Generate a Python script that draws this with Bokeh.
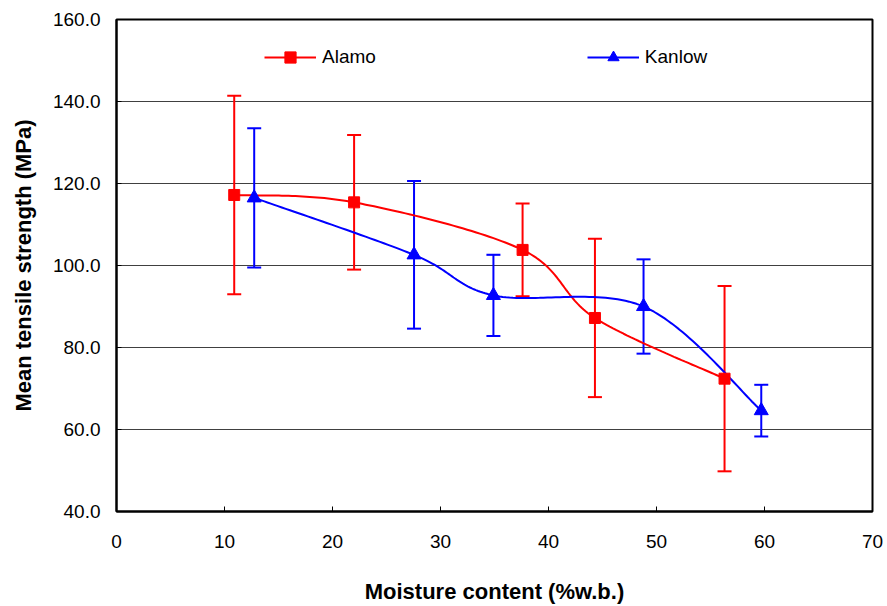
import numpy as np
from bokeh.plotting import figure
from bokeh.models import (ColumnDataSource, Whisker, TeeHead, Range1d, FixedTicker,
                          NumeralTickFormatter, Legend, LegendItem)
from bokeh.embed import file_html
from bokeh.resources import INLINE

# Moisture content (% w.b.) and mean tensile strength (MPa) with error bars
alamo_x = [10.9, 22.0, 37.6, 44.3, 56.3]
alamo_y = [117.2, 115.4, 103.8, 87.2, 72.4]
alamo_err = [24.2, 16.4, 11.3, 19.3, 22.6]

kanlow_x = [12.75, 27.55, 34.9, 48.8, 59.7]
kanlow_y = [116.5, 102.6, 92.7, 90.0, 64.6]
kanlow_err = [17.0, 18.0, 9.9, 11.5, 6.3]

x_ticks = [0, 10, 20, 30, 40, 50, 60, 70]
y_ticks = [40, 60, 80, 100, 120, 140, 160]

FONT = "Liberation Sans"
RED = "#FF0000"
BLUE = "#0000FF"


def smooth_curve(xs, ys, steps=40):
    """Cubic Bezier smoothing through the points (Catmull-Rom style control points)."""
    pts = np.column_stack([xs, ys]).astype(float)
    n = len(pts)
    out_x, out_y = [], []
    t = np.linspace(0, 1, steps)
    for i in range(n - 1):
        p0 = pts[i - 1] if i > 0 else pts[i]
        p1 = pts[i]
        p2 = pts[i + 1]
        p3 = pts[i + 2] if i + 2 < n else pts[i + 1]
        c1 = p1 + (p2 - p0) / 6.0
        c2 = p2 - (p3 - p1) / 6.0
        b = ((1 - t) ** 3)[:, None] * p1 + (3 * (1 - t) ** 2 * t)[:, None] * c1 \
            + (3 * (1 - t) * t ** 2)[:, None] * c2 + (t ** 3)[:, None] * p2
        if i > 0:
            b = b[1:]
        out_x.extend(b[:, 0])
        out_y.extend(b[:, 1])
    return out_x, out_y


p = figure(width=887, height=606, output_backend="svg", toolbar_location=None,
           x_range=Range1d(0, 70), y_range=Range1d(40, 160),
           min_border_left=116, min_border_right=15, min_border_top=19,
           min_border_bottom=95)
p.background_fill_color = "white"
p.border_fill_color = "white"
p.outline_line_color = "black"
p.outline_line_width = 2

# axes
p.xaxis.ticker = FixedTicker(ticks=x_ticks)
p.yaxis.ticker = FixedTicker(ticks=y_ticks)
p.yaxis.formatter = NumeralTickFormatter(format="0.0")
for ax in (p.xaxis[0], p.yaxis[0]):
    ax.axis_line_color = "black"
    ax.axis_line_width = 2
    ax.major_tick_in = 5
    ax.major_tick_out = 0
    ax.major_tick_line_color = "black"
    ax.minor_tick_line_color = None
    ax.major_label_text_font = FONT
    ax.major_label_text_font_size = "19px"
    ax.major_label_text_color = "black"
    ax.axis_label_text_font = FONT
    ax.axis_label_text_font_size = "22px"
    ax.axis_label_text_font_style = "bold"
    ax.axis_label_text_color = "black"

p.xaxis.axis_label = "Moisture content (%w.b.)"
p.yaxis.axis_label = "Mean tensile strength (MPa)"
p.xaxis.major_label_standoff = 23
p.xaxis.axis_label_standoff = 28
p.yaxis.major_label_standoff = 16
p.yaxis.axis_label_standoff = 14

p.xgrid.grid_line_color = None
p.ygrid.grid_line_color = "#404040"
p.ygrid.grid_line_width = 1

# error bars
for xs, ys, es, col in ((alamo_x, alamo_y, alamo_err, RED),
                        (kanlow_x, kanlow_y, kanlow_err, BLUE)):
    src = ColumnDataSource(dict(
        x=xs,
        upper=[y + e for y, e in zip(ys, es)],
        lower=[y - e for y, e in zip(ys, es)],
    ))
    w = Whisker(source=src, base="x", upper="upper", lower="lower",
                dimension="height", line_color=col, line_width=2,
                upper_head=TeeHead(size=14, line_color=col, line_width=2),
                lower_head=TeeHead(size=14, line_color=col, line_width=2))
    p.add_layout(w)

# smoothed series lines and markers
ax_s, ay_s = smooth_curve(alamo_x, alamo_y)
kx_s, ky_s = smooth_curve(kanlow_x, kanlow_y)
l_alamo = p.line(ax_s, ay_s, line_color=RED, line_width=2)
l_kanlow = p.line(kx_s, ky_s, line_color=BLUE, line_width=2)
m_alamo = p.scatter(alamo_x, alamo_y, marker="square", size=11,
                    fill_color=RED, line_color=RED)
m_kanlow = p.scatter(kanlow_x, kanlow_y, marker="triangle", size=14,
                     fill_color=BLUE, line_color=BLUE)

legend = Legend(items=[LegendItem(label="Alamo", renderers=[l_alamo, m_alamo]),
                       LegendItem(label="Kanlow", renderers=[l_kanlow, m_kanlow])],
                orientation="horizontal", location=(148, 440),
                spacing=211, padding=0, margin=0,
                glyph_width=52, glyph_height=28, label_standoff=6,
                label_text_font=FONT, label_text_font_size="19px",
                label_text_color="black",
                border_line_color=None, background_fill_alpha=0)
p.add_layout(legend)

open("out.html", "w").write(file_html(p, INLINE))
